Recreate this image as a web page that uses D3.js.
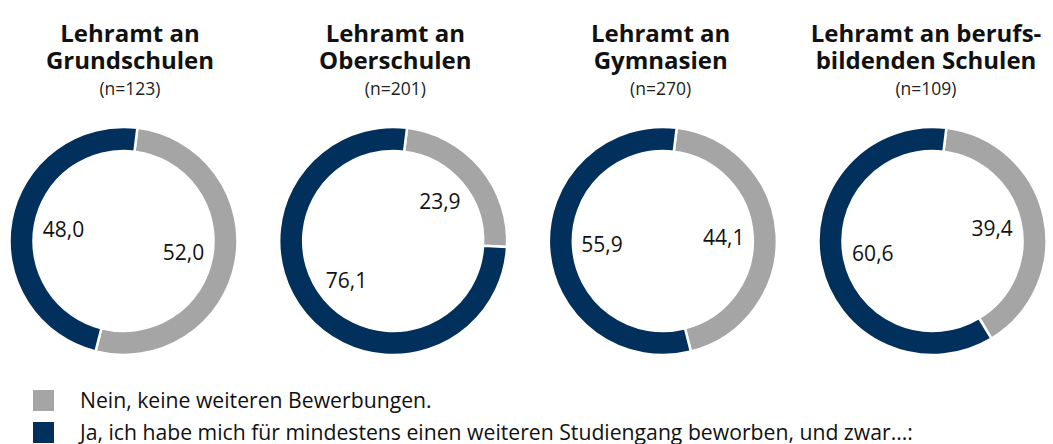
<!DOCTYPE html>
<html><head><meta charset="utf-8">
<script src="https://cdn.jsdelivr.net/npm/d3@7"></script>
<style>body{margin:0;background:#fff}svg{display:block}text{font-family:"Open Sans",sans-serif}</style>
</head><body><svg id="c" width="1053" height="444"></svg>
<script>
const titlesLine1 = ["Lehramt an", "Lehramt an", "Lehramt an", "Lehramt an berufs-"];
const titlesLine2 = ["Grundschulen", "Oberschulen", "Gymnasien", "bildenden Schulen"];
const sampleSizes = ["(n=123)", "(n=201)", "(n=270)", "(n=109)"];
const neinValues = [52.0, 23.9, 44.1, 39.4];
const jaValues = [48.0, 76.1, 55.9, 60.6];
const seriesNames = ["Nein, keine weiteren Bewerbungen.", "Ja, ich habe mich für mindestens einen weiteren Studiengang beworben, und zwar...:"];
const colors = ["#a5a5a5", "#01305c"];

const svg = d3.select("#c");
const idx = d3.range(titlesLine1.length);
const xDonut = d3.scalePoint().domain(idx).range([123.5, 932.5]);
const xTitle = d3.scalePoint().domain(idx).range([130, 926]);
const cy = 241, rOuter = 114, rInner = 90;
const fmt = v => d3.format(".1f")(v).replace(".", ",");

const pie = d3.pie().sort(null).value(d => d.v)
  .startAngle(7 * Math.PI / 180).endAngle(7 * Math.PI / 180 + 2 * Math.PI);
const arc = d3.arc().innerRadius(rInner).outerRadius(rOuter);
const labelArc = d3.arc().innerRadius(61).outerRadius(61);

idx.forEach(i => {
  const g = svg.append("g").attr("transform", `translate(${xDonut(i)},${cy})`);
  const data = [{v: neinValues[i], c: 0}, {v: jaValues[i], c: 1}];
  const arcs = pie(data);
  g.selectAll("path").data(arcs).join("path")
    .attr("d", arc).attr("fill", d => colors[d.data.c])
    .attr("stroke", "#fff").attr("stroke-width", 2.5);
  g.selectAll("text").data(arcs).join("text")
    .attr("transform", d => `translate(${labelArc.centroid(d)})`)
    .attr("text-anchor", "middle").attr("dy", "0.36em")
    .attr("font-size", 21).attr("fill", "#111")
    .text(d => fmt(d.data.v));

  const t = svg.append("g").attr("transform", `translate(${xTitle(i)},0)`);
  t.append("text").attr("y", 41.5).attr("text-anchor", "middle").attr("font-size", 24)
    .attr("font-weight", "bold").attr("fill", "#111").text(titlesLine1[i]);
  t.append("text").attr("y", 68.5).attr("text-anchor", "middle").attr("font-size", 24)
    .attr("font-weight", "bold").attr("fill", "#111").text(titlesLine2[i]);
  t.append("text").attr("y", 95).attr("text-anchor", "middle").attr("font-size", 17.5)
    .attr("fill", "#222").text(sampleSizes[i]);
});

const legend = svg.append("g");
const ly = d3.scalePoint().domain([0, 1]).range([401, 433]);
seriesNames.forEach((name, k) => {
  legend.append("rect").attr("x", 33).attr("y", ly(k) - 11).attr("width", 21).attr("height", 21)
    .attr("fill", colors[k]);
  legend.append("text").attr("x", 80).attr("y", ly(k)).attr("dy", "0.35em")
    .attr("font-size", 21.2).attr("fill", "#111").text(name);
});
</script></body></html>
